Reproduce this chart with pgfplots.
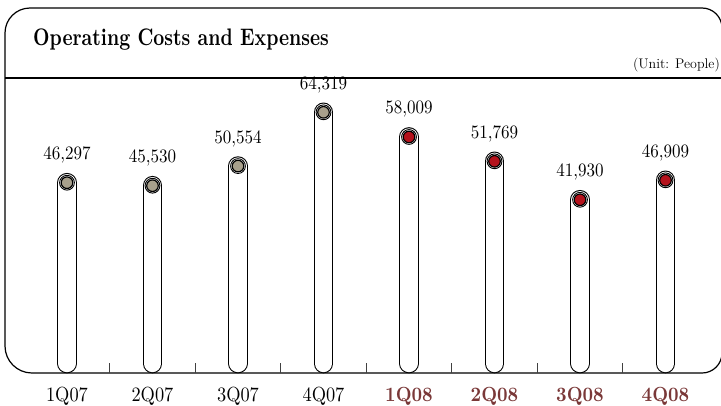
\documentclass[border=0pt]{standalone}
\usepackage{fontspec}
\usepackage{pgfplots}
\pgfplotsset{compat=1.18}
\newfontfamily\titlefont{lmroman10-bold}[Extension=.otf, FakeStretch=0.8]
\newfontfamily\numfont{lmroman10-regular}[Extension=.otf, FakeStretch=0.9]
\newfontfamily\numfontbf{lmroman10-bold}[Extension=.otf, FakeStretch=0.9]
\definecolor{tanmark}{RGB}{168,160,140}
\definecolor{redmark}{RGB}{180,18,28}
\definecolor{maroonlab}{RGB}{122,56,56}
\begin{document}
\begin{tikzpicture}[x=1bp,y=1bp]
\useasboundingbox (-5,-32) rectangle (716,373);
% frame
\draw[line width=1.2bp] (0,295) -- (717,295);
\draw[line width=1.2bp] (0,340) arc[start angle=180,end angle=90,radius=25] -- (697,365)
  arc[start angle=90,end angle=0,radius=20] -- (717,20)
  arc[start angle=0,end angle=-90,radius=20] -- (27,0)
  arc[start angle=270,end angle=180,radius=27] -- cycle;
\begin{axis}[
  at={(0,0)}, anchor=south west, scale only axis,
  width=716bp, height=295bp,
  xmin=-0.725, xmax=7.649, ymin=-2433, ymax=73111,
  clip=false,
  axis y line=none, axis x line*=bottom,
  x axis line style={draw=none},
  ytick=\empty,
  xtick={0,...,7},
  xticklabels={1Q07,2Q07,3Q07,4Q07,
    \textcolor{maroonlab}{\numfontbf 1Q08},\textcolor{maroonlab}{\numfontbf 2Q08},
    \textcolor{maroonlab}{\numfontbf 3Q08},\textcolor{maroonlab}{\numfontbf 4Q08}},
  major tick length=0pt,
  minor xtick={0.5,1.5,2.5,3.5,4.5,5.5,6.5},
  minor tick length=10bp,
  tick align=inside,
  minor tick style={line width=0.9bp, draw=black!75},
  xticklabel style={font=\numfont\fontsize{20.5}{20.5}\selectfont, anchor=base, yshift=-28.5bp},
  every node near coord/.append style={font=\numfont\fontsize{19}{19}\selectfont, anchor=base, yshift=23bp, text=black},
]
\addplot[ycomb, draw=black, line width=19.6bp, line cap=round] coordinates
  {(0,46297) (1,45530) (2,50554) (3,64319) (4,58009) (5,51769) (6,41930) (7,46909)};
\addplot[ycomb, draw=white, line width=17.4bp, line cap=round] coordinates
  {(0,46297) (1,45530) (2,50554) (3,64319) (4,58009) (5,51769) (6,41930) (7,46909)};
\addplot[only marks, mark=*, mark size=7.4bp, mark options={fill=white, draw=black, line width=0.9bp}] coordinates
  {(0,46297) (1,45530) (2,50554) (3,64319) (4,58009) (5,51769) (6,41930) (7,46909)};
\addplot[only marks, mark=*, mark size=5.8bp, mark options={fill=tanmark, draw=black, line width=1.2bp},
  nodes near coords={\numfont\pgfmathprintnumber[assume math mode=true]{\pgfplotspointmeta}}] coordinates
  {(0,46297) (1,45530) (2,50554) (3,64319)};
\addplot[only marks, mark=*, mark size=5.8bp, mark options={fill=redmark, draw=black, line width=1.2bp},
  nodes near coords={\numfont\pgfmathprintnumber[assume math mode=true]{\pgfplotspointmeta}}] coordinates
  {(4,58009) (5,51769) (6,41930) (7,46909)};
\end{axis}
\node[anchor=base west, inner sep=0pt, font=\titlefont\fontsize{24}{24}\selectfont] at (28,328) {Operating Costs and Expenses};
\node[anchor=base east, inner sep=0pt, font=\fontsize{14}{14}\selectfont] at (715,305) {(Unit: People)};
\end{tikzpicture}
\end{document}
